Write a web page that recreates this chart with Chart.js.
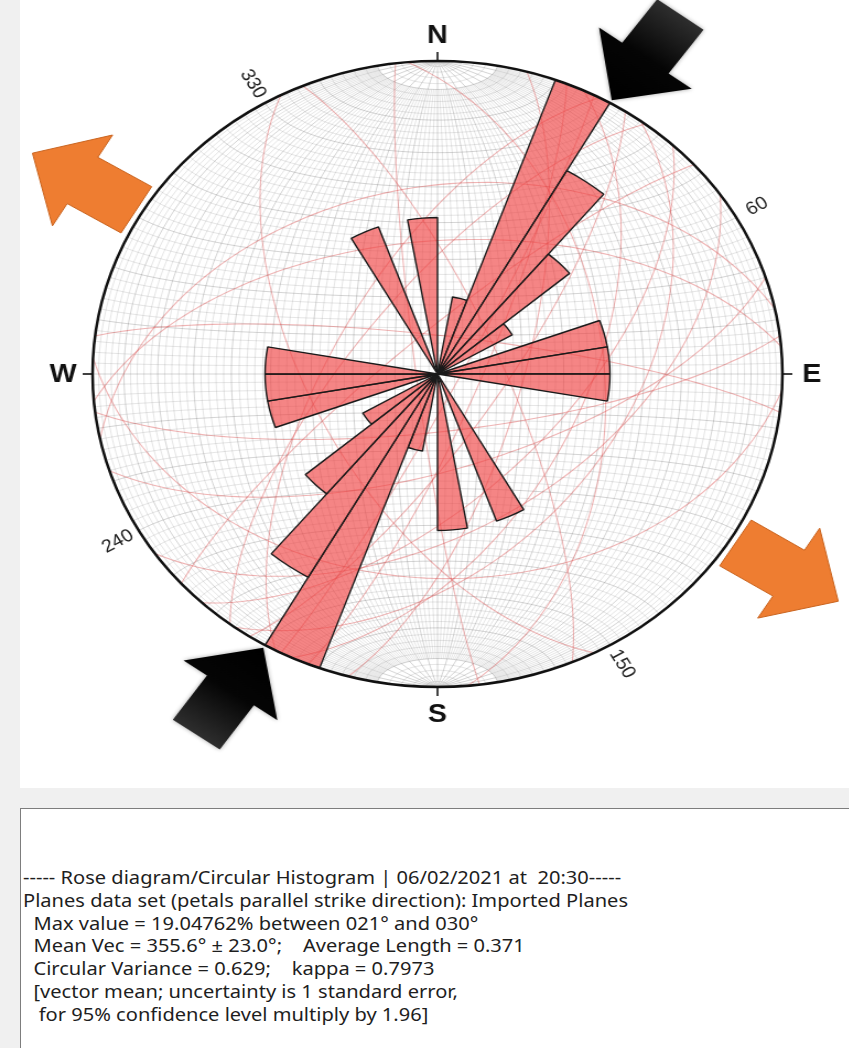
<!DOCTYPE html>
<html>
<head>
<meta charset="utf-8">
<script src="https://cdn.jsdelivr.net/npm/chart.js@4/dist/chart.umd.min.js"></script>
<style>
  html, body { margin: 0; padding: 0; }
  body { width: 849px; height: 1048px; background: #f0f0f0; position: relative; overflow: hidden; }
  #panel { position: absolute; left: 20px; top: 0; width: 829px; height: 788px; background: #fff; }
  #stage { position: absolute; left: 0; top: 0; width: 770px; height: 780px; transform: scaleX(1.102); transform-origin: 0 0; }
  #info { position: absolute; left: 20px; top: 808px; width: 850px; height: 260px; border: 1px solid #7d7d7d; background: #fff; box-sizing: border-box; }
  #log { position: absolute; left: 2px; top: 57px; margin: 0; font: 18px 'Noto Sans', sans-serif; line-height: 22.8px; color: #1e1e1e; white-space: pre; transform-origin: 0 0; }
  #log span { display: inline-block; }
</style>
</head>
<body>
<div id="panel"></div>
<div id="stage"><canvas id="rose"></canvas></div>
<div id="info"><div id="log"></div></div>
<script>
// 10-degree strike bins, clockwise from north
const bins = ['000-010','010-020','020-030','030-040','040-050','050-060','060-070','070-080','080-090',
  '090-100','100-110','110-120','120-130','130-140','140-150','150-160','160-170','170-180',
  '180-190','190-200','200-210','210-220','220-230','230-240','240-250','250-260','260-270',
  '270-280','280-290','290-300','300-310','310-320','320-330','330-340','340-350','350-360'];

// percentage of planes in each bin (bidirectional petals)
const petalPercent = [0, 4.7619, 19.04762, 14.28571, 9.52381, 4.7619, 0, 9.52381, 9.52381,
  9.52381, 0, 0, 0, 0, 0, 9.52381, 0, 9.52381,
  0, 4.7619, 19.04762, 14.28571, 9.52381, 4.7619, 0, 9.52381, 9.52381,
  9.52381, 0, 0, 0, 0, 0, 9.52381, 0, 9.52381];

// imported planes: strike (right-hand rule) and dip, degrees
const planeStrike = [15, 22, 25, 27, 208, 33, 36, 217, 43, 228, 55, 72, 258, 83, 265, 93, 277, 153, 337, 173, 355];
const planeDip    = [70, 80, 55, 85, 65, 75, 45, 70, 60, 80, 50, 65, 40, 75, 55, 35, 80, 60, 75, 85, 50];

const compassLabels = ['N', 'E', 'S', 'W'];
const compassAngles = [0, 90, 180, 270];
const degreeLabels = [330, 60, 150, 240];

const logLines = [
  '----- Rose diagram/Circular Histogram | 06/02/2021 at  20:30-----',
  'Planes data set (petals parallel strike direction): Imported Planes',
  null,
  '  Mean Vec = 355.6\u00b0 \u00b1 23.0\u00b0;    Average Length = 0.371',
  '  Circular Variance = 0.629;    kappa = 0.7973',
  '  [vector mean; uncertainty is 1 standard error,',
  '   for 95% confidence level multiply by 1.96]'
];

const maxValue = Math.max(...petalPercent);
const maxIdx = petalPercent.indexOf(maxValue);
const pad3 = n => String(n).padStart(3, '0');
logLines[2] = '  Max value = ' + maxValue.toFixed(5) + '% between ' + pad3(maxIdx * 10 + 1) + '\u00b0 and ' + pad3(maxIdx * 10 + 10) + '\u00b0';

const log = document.getElementById('log');
logLines.forEach(t => { const d = document.createElement('div'); const s = document.createElement('span'); s.textContent = t; d.appendChild(s); log.appendChild(d); });
const w2 = log.children[1].firstChild.getBoundingClientRect().width;
log.style.transform = 'scaleX(' + (605 / w2).toFixed(4) + ')';

const D2R = Math.PI / 180;

// lower-hemisphere equal-area projection of a unit vector (east, north, down)
function project(x, y, z) {
  const k = 1 / Math.sqrt(1 + z);
  return [x * k, y * k];
}

function polyline(ctx, cx, cy, R, pts) {
  ctx.beginPath();
  pts.forEach((p, i) => {
    const px = cx + R * p[0], py = cy - R * p[1];
    if (i === 0) ctx.moveTo(px, py); else ctx.lineTo(px, py);
  });
  ctx.stroke();
}

function greatCircle(strike, dip, t0 = 0, t1 = 180) {
  const s = strike * D2R, dd = (strike + 90) * D2R, d = dip * D2R;
  const S = [Math.sin(s), Math.cos(s), 0];
  const Dv = [Math.cos(d) * Math.sin(dd), Math.cos(d) * Math.cos(dd), Math.sin(d)];
  const pts = [];
  for (let t = t0; t <= t1; t += 2) {
    const c = Math.cos(t * D2R), n = Math.sin(t * D2R);
    pts.push(project(c * S[0] + n * Dv[0], c * S[1] + n * Dv[1], c * S[2] + n * Dv[2]));
  }
  return pts;
}

function smallCircle(alpha) {
  const a = alpha * D2R, pts = [];
  for (let f = 0; f <= 180; f += 3) {
    const p = f * D2R;
    pts.push(project(Math.sin(a) * Math.cos(p), Math.cos(a), Math.sin(a) * Math.sin(p)));
  }
  return pts;
}

function drawArrow(ctx, tx, ty, dir, headLen, headHalf, shaftLen, shaftHalf, fill, stroke) {
  const a = dir * D2R;
  const dx = Math.sin(a), dy = -Math.cos(a);
  const px = Math.cos(a), py = Math.sin(a);
  const bx = tx - dx * headLen, by = ty - dy * headLen;
  const ex = tx - dx * (headLen + shaftLen), ey = ty - dy * (headLen + shaftLen);
  ctx.beginPath();
  ctx.moveTo(tx, ty);
  ctx.lineTo(bx + px * headHalf, by + py * headHalf);
  ctx.lineTo(bx + px * shaftHalf, by + py * shaftHalf);
  ctx.lineTo(ex + px * shaftHalf, ey + py * shaftHalf);
  ctx.lineTo(ex - px * shaftHalf, ey - py * shaftHalf);
  ctx.lineTo(bx - px * shaftHalf, by - py * shaftHalf);
  ctx.lineTo(bx - px * headHalf, by - py * headHalf);
  ctx.closePath();
  if (typeof fill === 'function') ctx.fillStyle = fill(ctx, tx, ty, ex, ey); else ctx.fillStyle = fill;
  ctx.fill();
  if (stroke) { ctx.shadowColor = 'transparent'; ctx.strokeStyle = stroke; ctx.lineWidth = 1; ctx.stroke(); }
}

const stereonet = {
  id: 'stereonet',
  beforeDatasetsDraw(chart) {
    const sc = chart.scales.r, ctx = chart.ctx;
    const cx = sc.xCenter, cy = sc.yCenter, R = sc.drawingArea;
    ctx.save();
    ctx.beginPath();
    ctx.arc(cx, cy, R, 0, 2 * Math.PI);
    ctx.fillStyle = '#ffffff';
    ctx.fill();
    ctx.clip();
    // equal-area net, 2 degree spacing; minor meridians stop 10 degrees short of the poles
    ctx.lineWidth = 0.8;
    for (let d = 2; d < 90; d += 2) {
      const major = d % 10 === 0;
      ctx.strokeStyle = major ? 'rgba(110,110,110,0.36)' : 'rgba(120,120,120,0.24)';
      const t0 = major ? 0 : 10, t1 = major ? 180 : 170;
      polyline(ctx, cx, cy, R, greatCircle(0, d, t0, t1));
      polyline(ctx, cx, cy, R, greatCircle(180, d, t0, t1));
    }
    ctx.strokeStyle = 'rgba(110,110,110,0.36)';
    polyline(ctx, cx, cy, R, greatCircle(0, 90));
    for (let a = 2; a < 180; a += 2) {
      ctx.strokeStyle = a % 10 === 0 ? 'rgba(110,110,110,0.36)' : 'rgba(120,120,120,0.24)';
      polyline(ctx, cx, cy, R, smallCircle(a));
    }
    // planes as great circles
    ctx.strokeStyle = 'rgba(215,60,60,0.38)';
    ctx.lineWidth = 1.1;
    planeStrike.forEach((s, i) => polyline(ctx, cx, cy, R, greatCircle(s, planeDip[i])));
    ctx.restore();
  },
  afterDatasetsDraw(chart) {
    const sc = chart.scales.r, ctx = chart.ctx;
    const cx = sc.xCenter, cy = sc.yCenter, R = sc.drawingArea;
    const at = (deg, rho) => [cx + rho * R * Math.sin(deg * D2R), cy - rho * R * Math.cos(deg * D2R)];
    ctx.save();
    // primitive circle
    ctx.beginPath();
    ctx.arc(cx, cy, R, 0, 2 * Math.PI);
    ctx.strokeStyle = '#111';
    ctx.lineWidth = 2.5;
    ctx.stroke();
    // compass ticks and letters
    ctx.lineWidth = 1.6;
    ctx.fillStyle = '#111';
    ctx.font = 'bold 26px "Liberation Sans", Arial, sans-serif';
    ctx.textAlign = 'center';
    ctx.textBaseline = 'middle';
    compassAngles.forEach((a, i) => {
      const p0 = at(a, 1), p1 = at(a, 1 + 9 / R);
      ctx.beginPath(); ctx.moveTo(p0[0], p0[1]); ctx.lineTo(p1[0], p1[1]); ctx.stroke();
      const q = at(a, 1.085);
      ctx.fillText(compassLabels[i], q[0], q[1] + 1);
    });
    // degree labels, oriented radially
    ctx.font = '18px "Liberation Sans", Arial, sans-serif';
    ctx.fillStyle = '#222';
    degreeLabels.forEach(a => {
      const q = at(a, 1.07);
      let rot = a - 90; if (rot > 90) rot -= 180;
      ctx.save();
      ctx.translate(q[0], q[1]);
      ctx.rotate(rot * D2R);
      ctx.fillText(String(a), 0, 0);
      ctx.restore();
    });
    // extension arrows
    const orange = '#ee7d31';
    [[301, 301], [122, 122]].forEach(([pos, dir]) => {
      const t = at(pos, 1.37);
      drawArrow(ctx, t[0], t[1], dir, 53, 53, 57, 27, orange, '#c9621c');
    });
    // compression arrows
    const shade = (c, tx, ty, ex, ey) => {
      const g = c.createLinearGradient(ex, ey, tx, ty);
      g.addColorStop(0, '#2e2e2e'); g.addColorStop(0.5, '#050505'); g.addColorStop(1, '#000');
      return g;
    };
    ctx.shadowColor = 'rgba(0,0,0,0.35)';
    ctx.shadowBlur = 4;
    [[30, 216], [210, 35]].forEach(([pos, dir]) => {
      const t = at(pos, 1.01);
      drawArrow(ctx, t[0], t[1], dir, 52, 52, 54, 26, shade, null);
    });
    ctx.restore();
  }
};

new Chart(document.getElementById('rose'), {
  type: 'polarArea',
  data: {
    labels: bins,
    datasets: [{
      data: petalPercent,
      backgroundColor: 'rgba(240,70,70,0.66)',
      borderColor: '#1a1a1a',
      borderWidth: 1.4
    }]
  },
  options: {
    responsive: true,
    maintainAspectRatio: false,
    animation: false,
    layout: { padding: { left: 84, right: 60, top: 61, bottom: 93 } },
    plugins: { legend: { display: false }, tooltip: { enabled: false } },
    scales: {
      r: {
        min: 0,
        max: maxValue,
        ticks: { display: false },
        grid: { display: false },
        angleLines: { display: false },
        pointLabels: { display: false }
      }
    }
  },
  plugins: [stereonet]
});
</script>
</body>
</html>
